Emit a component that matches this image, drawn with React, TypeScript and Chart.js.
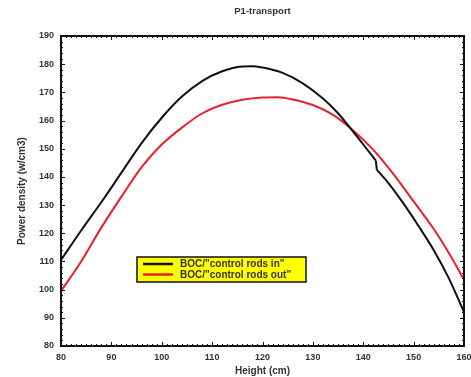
import React, { useEffect, useRef } from "react";
import { Chart, registerables } from "chart.js";

Chart.register(...registerables);

const titleText = "P1-transport";
const xTitle = "Height (cm)";
const yTitle = "Power density (w/cm3)";
const legendLabels = ['BOC/"control rods in"', 'BOC/"control rods out"'];

// "control rods in": the curve has a small step at ~142.6 cm, so it is kept in two parts
const inHeightsUpper = [80, 84, 88, 92, 96, 100, 104, 108, 112, 116, 118, 120, 124, 128, 132, 135, 137, 140, 142.5];
const inValuesUpper = [110.5, 121, 131, 141.5, 152, 161, 168.5, 174, 177.5, 179.2, 179.3, 178.8, 176.9, 173.2, 167.8, 162.6, 158.3, 151.5, 145.8];
const inHeightsLower = [142.7, 145, 148, 151, 154, 157, 160];
const inValuesLower = [142.5, 137.8, 130.5, 122.5, 114, 104, 92];

const outHeights = [80, 84, 88, 92, 96, 100, 104, 108, 112, 116, 120, 123, 126, 130, 134, 138, 142, 146, 150, 154, 157, 160];
const outValues = [99.5, 110, 122, 133, 143.5, 151.5, 157.5, 162.5, 165.6, 167.4, 168.2, 168.3, 167.5, 165.5, 162, 156.5, 149.6, 141, 131.3, 121.5, 113, 103.5];

const seriesColors = ["#111111", "#e8212b"];

const FONT = "Arial, 'Liberation Sans', sans-serif";

const toPoints = (xs: number[], ys: number[]) => xs.map((h, i) => ({ x: h, y: ys[i] }));

const framePlugin = {
  id: "frame",
  afterDraw(chart: any) {
    const { ctx, chartArea: a, scales } = chart;
    const xs = scales.x;
    const ys = scales.y;
    ctx.save();
    // title
    ctx.fillStyle = "#333";
    ctx.font = `bold 9.5px ${FONT}`;
    ctx.textAlign = "center";
    ctx.textBaseline = "middle";
    ctx.fillText(titleText, (a.left + a.right) / 2, 11);
    // box
    ctx.strokeStyle = "#111";
    ctx.lineWidth = 2;
    ctx.strokeRect(a.left, a.top, a.right - a.left, a.bottom - a.top);
    ctx.lineWidth = 1;
    ctx.beginPath();
    for (let v = xs.min; v <= xs.max; v += 1) {
      const px = Math.round(xs.getPixelForValue(v)) + 0.5;
      const len = v % 10 === 0 ? 4 : 2;
      ctx.moveTo(px, a.bottom);
      ctx.lineTo(px, a.bottom - len);
      ctx.moveTo(px, a.top);
      ctx.lineTo(px, a.top + len);
    }
    for (let v = ys.min; v <= ys.max; v += 2) {
      const py = Math.round(ys.getPixelForValue(v)) + 0.5;
      const len = v % 10 === 0 ? 4 : 2;
      ctx.moveTo(a.left, py);
      ctx.lineTo(a.left + len, py);
      ctx.moveTo(a.right, py);
      ctx.lineTo(a.right - len, py);
    }
    ctx.stroke();
    // legend
    const lx = a.left + 76;
    const ly = a.top + 221;
    const lw = 169;
    const lh = 25;
    ctx.fillStyle = "#ffff00";
    ctx.fillRect(lx, ly, lw, lh);
    ctx.lineWidth = 1.5;
    ctx.strokeStyle = "#111";
    ctx.strokeRect(lx, ly, lw, lh);
    ctx.font = `bold 10px ${FONT}`;
    ctx.textAlign = "left";
    ctx.textBaseline = "middle";
    legendLabels.forEach((lab, i) => {
      const cy = ly + 7 + i * 10.5;
      ctx.strokeStyle = seriesColors[i];
      ctx.lineWidth = 2.5;
      ctx.beginPath();
      ctx.moveTo(lx + 6, cy);
      ctx.lineTo(lx + 36, cy);
      ctx.stroke();
      ctx.fillStyle = "#333";
      ctx.fillText(lab, lx + 43, cy + 0.5);
    });
    ctx.restore();
  },
};

export default function App() {
  const ref = useRef<HTMLCanvasElement | null>(null);
  useEffect(() => {
    if (!ref.current) return;
    const common = { borderWidth: 2, pointRadius: 0, cubicInterpolationMode: "monotone" as const };
    const chart = new Chart(ref.current, {
      type: "line",
      data: {
        datasets: [
          { ...common, label: legendLabels[0], data: toPoints(inHeightsUpper, inValuesUpper), borderColor: seriesColors[0] },
          {
            ...common,
            label: legendLabels[0] + " step",
            data: toPoints(
              [inHeightsUpper[inHeightsUpper.length - 1], inHeightsLower[0]],
              [inValuesUpper[inValuesUpper.length - 1], inValuesLower[0]]
            ),
            borderColor: seriesColors[0],
            tension: 0,
            cubicInterpolationMode: "default",
          },
          { ...common, label: legendLabels[0] + " (lower)", data: toPoints(inHeightsLower, inValuesLower), borderColor: seriesColors[0] },
          { ...common, label: legendLabels[1], data: toPoints(outHeights, outValues), borderColor: seriesColors[1] },
        ],
      },
      options: {
        animation: false,
        responsive: false,
        layout: { padding: { top: 36, right: 7, left: 0, bottom: 0 } },
        plugins: { legend: { display: false }, title: { display: false }, tooltip: { enabled: false } },
        scales: {
          x: {
            type: "linear",
            min: 80,
            max: 160,
            afterFit(s: any) { s.height = 31; s.paddingLeft = 0; s.paddingRight = 0; },
            grid: { display: false, drawTicks: false, tickLength: 0 },
            border: { display: false },
            ticks: { stepSize: 10, padding: 6, color: "#333", font: { family: FONT, size: 9, weight: "bold" } },
            title: { display: true, text: xTitle, color: "#333", padding: { top: 0, bottom: 0 }, font: { family: FONT, size: 10, weight: "bold" } },
          },
          y: {
            type: "linear",
            min: 80,
            max: 190,
            afterFit(s: any) { s.width = 61; s.paddingTop = 0; s.paddingBottom = 0; },
            grid: { display: false, drawTicks: false, tickLength: 0 },
            border: { display: false },
            ticks: { stepSize: 10, padding: 7, color: "#333", font: { family: FONT, size: 9, weight: "bold" } },
            title: { display: true, text: yTitle, color: "#333", padding: { top: 16, bottom: 0 }, font: { family: FONT, size: 10, weight: "bold" } },
          },
        },
      },
      plugins: [framePlugin],
    });
    return () => chart.destroy();
  }, []);
  return (
    <div style={{ position: "absolute", left: 0, top: 0, width: 471, height: 377, background: "#fff" }}>
      <canvas ref={ref} width={471} height={377} />
    </div>
  );
}
